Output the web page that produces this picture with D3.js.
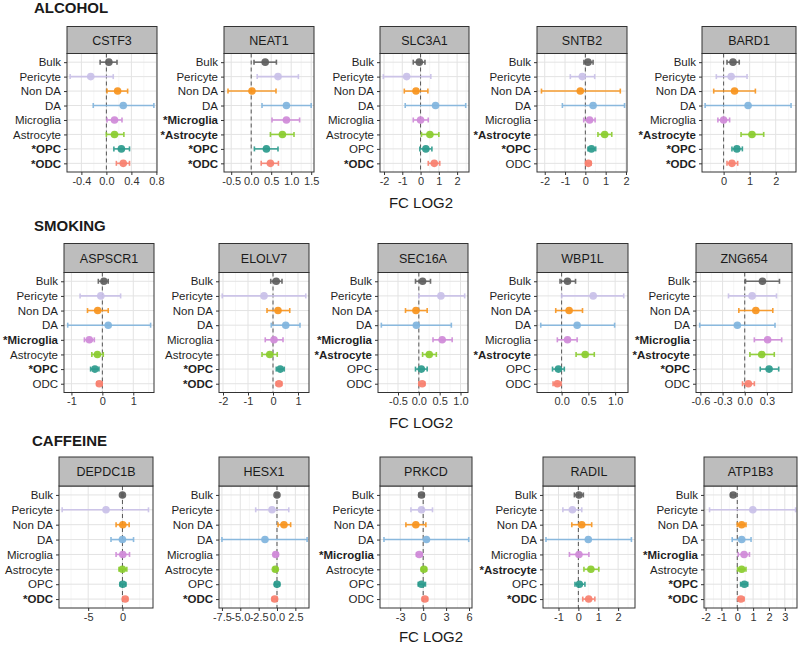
<!DOCTYPE html>
<html><head><meta charset="utf-8">
<script src="https://cdn.jsdelivr.net/npm/d3@7"></script>
<style>body{margin:0;background:#fff}svg{display:block;font-family:"Liberation Sans",Arial,sans-serif}</style>
</head><body><svg id="c" width="800" height="645"></svg>
<script>
// ---------------- DATA ----------------
const categories = ["Bulk","Pericyte","Non DA","DA","Microglia","Astrocyte","OPC","ODC"];
const catColors  = ["#5e5e5e","#c9c0e8","#f7941d","#80b4dd","#cf8ad8","#8acc2e","#2a9a8c","#f7806f"];
const sections = ["ALCOHOL","SMOKING","CAFFEINE"];
const sectionGenes = [
  ["CSTF3","NEAT1","SLC3A1","SNTB2","BARD1"],
  ["ASPSCR1","ELOLV7","SEC16A","WBP1L","ZNG654"],
  ["DEPDC1B","HESX1","PRKCD","RADIL","ATP1B3"]
];
const axisTitle = "FC LOG2";

// ALCOHOL
const CSTF3_est = [0.04,-0.25,0.18,0.27,0.13,0.13,0.24,0.27];
const CSTF3_lo  = [-0.10,-0.58,0.01,-0.21,0.01,0.00,0.12,0.16];
const CSTF3_hi  = [0.17,0.11,0.34,0.76,0.25,0.28,0.37,0.37];
const CSTF3_sig = ["OPC","ODC"];
const CSTF3_ticks = [-0.4,0,0.4,0.8];
const CSTF3_tickLabels = ["-0.4","0.0","0.4","0.8"];
const CSTF3_limits = [-0.63,0.81];

const NEAT1_est = [0.35,0.67,0.02,0.88,0.88,0.78,0.38,0.48];
const NEAT1_lo  = [0.07,0.15,-0.58,0.27,0.52,0.48,0.08,0.25];
const NEAT1_hi  = [0.63,1.18,0.62,1.50,1.21,1.07,0.67,0.68];
const NEAT1_sig = ["Microglia","Astrocyte","OPC","ODC"];
const NEAT1_ticks = [-0.5,0,0.5,1,1.5];
const NEAT1_tickLabels = ["-0.5","0.0","0.5","1.0","1.5"];
const NEAT1_limits = [-0.68,1.57];

const SLC3A1_est = [-0.07,-0.76,-0.25,0.82,0.00,0.51,0.29,0.75];
const SLC3A1_lo  = [-0.40,-2.04,-0.89,-0.84,-0.40,0.05,-0.04,0.42];
const SLC3A1_hi  = [0.24,0.56,0.40,2.47,0.42,1.00,0.62,1.05];
const SLC3A1_sig = ["ODC"];
const SLC3A1_ticks = [-2,-1,0,1,2];
const SLC3A1_tickLabels = ["-2","-1","0","1","2"];
const SLC3A1_limits = [-2.22,2.65];

const SNTB2_est = [0.13,-0.15,-0.25,0.38,0.21,0.95,0.30,0.15];
const SNTB2_lo  = [-0.07,-0.74,-2.16,-1.13,-0.08,0.62,0.13,0.02];
const SNTB2_hi  = [0.38,0.46,1.72,1.93,0.48,1.30,0.51,0.28];
const SNTB2_sig = ["Astrocyte","OPC"];
const SNTB2_ticks = [-2,-1,0,1,2];
const SNTB2_tickLabels = ["-2","-1","0","1","2"];
const SNTB2_limits = [-2.38,2.05];

const BARD1_est = [0.36,0.29,0.42,0.94,0.00,1.09,0.51,0.32];
const BARD1_lo  = [0.13,-0.28,-0.38,-0.71,-0.22,0.67,0.32,0.13];
const BARD1_hi  = [0.60,0.90,1.22,2.59,0.23,1.54,0.72,0.54];
const BARD1_sig = ["Astrocyte","OPC","ODC"];
const BARD1_ticks = [0,1,2];
const BARD1_tickLabels = ["0","1","2"];
const BARD1_limits = [-0.83,2.78];

// SMOKING
const ASPSCR1_est = [0.05,-0.05,-0.15,0.19,-0.42,-0.16,-0.24,-0.10];
const ASPSCR1_lo  = [-0.13,-0.72,-0.48,-1.12,-0.58,-0.34,-0.38,-0.18];
const ASPSCR1_hi  = [0.19,0.59,0.19,1.56,-0.26,0.03,-0.11,-0.01];
const ASPSCR1_sig = ["Microglia","OPC"];
const ASPSCR1_ticks = [-1,0,1];
const ASPSCR1_tickLabels = ["-1","0","1"];
const ASPSCR1_limits = [-1.24,1.67];

const ELOLV7_est = [0.13,-0.36,0.20,0.51,0.04,-0.13,0.29,0.24];
const ELOLV7_lo  = [-0.09,-2.03,-0.24,-0.07,-0.31,-0.44,0.13,0.13];
const ELOLV7_hi  = [0.36,1.31,0.67,1.08,0.40,0.17,0.45,0.35];
const ELOLV7_sig = ["OPC","ODC"];
const ELOLV7_ticks = [-2,-1,0,1];
const ELOLV7_tickLabels = ["-2","-1","0","1"];
const ELOLV7_limits = [-2.16,1.44];

const SEC16A_est = [0.09,0.53,-0.07,-0.06,0.56,0.25,0.06,0.08];
const SEC16A_lo  = [-0.08,0.00,-0.32,-0.90,0.34,0.09,-0.08,0.00];
const SEC16A_hi  = [0.28,1.10,0.20,0.78,0.80,0.42,0.20,0.14];
const SEC16A_sig = ["Microglia","Astrocyte"];
const SEC16A_ticks = [-0.5,0,0.5,1];
const SEC16A_tickLabels = ["-0.5","0.0","0.5","1.0"];
const SEC16A_limits = [-0.98,1.18];

const WBP1L_est = [0.11,0.59,0.14,0.29,0.11,0.44,-0.06,-0.08];
const WBP1L_lo  = [-0.03,0.00,-0.11,-0.39,-0.08,0.27,-0.17,-0.16];
const WBP1L_hi  = [0.26,1.16,0.39,0.99,0.29,0.61,0.05,-0.01];
const WBP1L_sig = ["Astrocyte"];
const WBP1L_ticks = [0,0.5,1];
const WBP1L_tickLabels = ["0.0","0.5","1.0"];
const WBP1L_limits = [-0.46,1.24];

const ZNG654_est = [0.24,0.10,0.15,-0.10,0.31,0.23,0.33,0.05];
const ZNG654_lo  = [0.01,-0.22,-0.08,-0.61,0.13,0.07,0.21,-0.03];
const ZNG654_hi  = [0.47,0.43,0.38,0.41,0.50,0.40,0.46,0.13];
const ZNG654_sig = ["Microglia","Astrocyte","OPC"];
const ZNG654_ticks = [-0.6,-0.3,0,0.3];
const ZNG654_tickLabels = ["-0.6","-0.3","0.0","0.3"];
const ZNG654_limits = [-0.66,0.64];

// CAFFEINE
const DEPDC1B_est = [0.00,-2.40,0.05,0.00,0.05,0.00,0.05,0.40];
const DEPDC1B_lo  = [-0.10,-8.80,-0.93,-1.67,-0.93,-0.50,-0.34,0.05];
const DEPDC1B_hi  = [0.15,3.80,0.98,1.62,1.03,0.64,0.50,0.74];
const DEPDC1B_sig = ["ODC"];
const DEPDC1B_ticks = [-5,0];
const DEPDC1B_tickLabels = ["-5","0"];
const DEPDC1B_limits = [-9.26,4.46];

const HESX1_est = [0.00,-0.68,0.95,-1.64,-0.18,-0.23,0.00,-0.32];
const HESX1_lo  = [-0.18,-2.90,0.14,-7.50,-0.40,-0.45,-0.30,-0.63];
const HESX1_hi  = [0.20,1.60,1.86,4.10,0.14,0.05,0.35,0.00];
const HESX1_sig = ["ODC"];
const HESX1_ticks = [-7.5,-5,-2.5,0,2.5];
const HESX1_tickLabels = ["-7.5","-5.0","-2.5","0.0","2.5"];
const HESX1_limits = [-7.9,4.36];

const PRKCD_est = [-0.22,-0.22,-0.96,0.43,-0.52,0.09,-0.22,0.22];
const PRKCD_lo  = [-0.57,-1.60,-2.26,-5.13,-0.87,-0.22,-0.65,-0.09];
const PRKCD_hi  = [0.13,1.22,0.35,5.96,-0.13,0.43,0.30,0.57];
const PRKCD_sig = ["Microglia"];
const PRKCD_ticks = [-3,0,3,6];
const PRKCD_tickLabels = ["-3","0","3","6"];
const PRKCD_limits = [-5.65,6.39];

const RADIL_est = [0.03,-0.30,0.17,0.50,0.03,0.63,0.05,0.52];
const RADIL_lo  = [-0.20,-0.78,-0.33,-1.63,-0.45,0.28,-0.17,0.22];
const RADIL_hi  = [0.25,0.17,0.67,2.67,0.53,1.03,0.33,0.83];
const RADIL_sig = ["Astrocyte","ODC"];
const RADIL_ticks = [-1,0,1,2];
const RADIL_tickLabels = ["-1","0","1","2"];
const RADIL_limits = [-1.78,2.85];

const ATP1B3_est = [-0.26,0.98,0.28,0.28,0.43,0.28,0.45,0.23];
const ATP1B3_lo  = [-0.40,-1.75,0.00,-0.32,0.06,0.02,0.21,0.06];
const ATP1B3_hi  = [-0.10,3.68,0.55,0.87,0.77,0.55,0.66,0.43];
const ATP1B3_sig = ["Microglia","OPC","ODC"];
const ATP1B3_ticks = [-2,-1,0,1,2,3];
const ATP1B3_tickLabels = ["-2","-1","0","1","2","3"];
const ATP1B3_limits = [-2.1,3.77];

const geneData = {
  CSTF3:[CSTF3_est,CSTF3_lo,CSTF3_hi,CSTF3_sig,CSTF3_ticks,CSTF3_tickLabels,CSTF3_limits],
  NEAT1:[NEAT1_est,NEAT1_lo,NEAT1_hi,NEAT1_sig,NEAT1_ticks,NEAT1_tickLabels,NEAT1_limits],
  SLC3A1:[SLC3A1_est,SLC3A1_lo,SLC3A1_hi,SLC3A1_sig,SLC3A1_ticks,SLC3A1_tickLabels,SLC3A1_limits],
  SNTB2:[SNTB2_est,SNTB2_lo,SNTB2_hi,SNTB2_sig,SNTB2_ticks,SNTB2_tickLabels,SNTB2_limits],
  BARD1:[BARD1_est,BARD1_lo,BARD1_hi,BARD1_sig,BARD1_ticks,BARD1_tickLabels,BARD1_limits],
  ASPSCR1:[ASPSCR1_est,ASPSCR1_lo,ASPSCR1_hi,ASPSCR1_sig,ASPSCR1_ticks,ASPSCR1_tickLabels,ASPSCR1_limits],
  ELOLV7:[ELOLV7_est,ELOLV7_lo,ELOLV7_hi,ELOLV7_sig,ELOLV7_ticks,ELOLV7_tickLabels,ELOLV7_limits],
  SEC16A:[SEC16A_est,SEC16A_lo,SEC16A_hi,SEC16A_sig,SEC16A_ticks,SEC16A_tickLabels,SEC16A_limits],
  WBP1L:[WBP1L_est,WBP1L_lo,WBP1L_hi,WBP1L_sig,WBP1L_ticks,WBP1L_tickLabels,WBP1L_limits],
  ZNG654:[ZNG654_est,ZNG654_lo,ZNG654_hi,ZNG654_sig,ZNG654_ticks,ZNG654_tickLabels,ZNG654_limits],
  DEPDC1B:[DEPDC1B_est,DEPDC1B_lo,DEPDC1B_hi,DEPDC1B_sig,DEPDC1B_ticks,DEPDC1B_tickLabels,DEPDC1B_limits],
  HESX1:[HESX1_est,HESX1_lo,HESX1_hi,HESX1_sig,HESX1_ticks,HESX1_tickLabels,HESX1_limits],
  PRKCD:[PRKCD_est,PRKCD_lo,PRKCD_hi,PRKCD_sig,PRKCD_ticks,PRKCD_tickLabels,PRKCD_limits],
  RADIL:[RADIL_est,RADIL_lo,RADIL_hi,RADIL_sig,RADIL_ticks,RADIL_tickLabels,RADIL_limits],
  ATP1B3:[ATP1B3_est,ATP1B3_lo,ATP1B3_hi,ATP1B3_sig,ATP1B3_ticks,ATP1B3_tickLabels,ATP1B3_limits]
};

// ---------------- LAYOUT ----------------
const rowLayout = [
  {titleX:34, titleY:13, top:26.5, headH:27, panelH:118.5, axX:421, axY:208},
  {titleX:34, titleY:231, top:243.5, headH:29, panelH:120, axX:421, axY:428},
  {titleX:32, titleY:446, top:457, headH:29, panelH:122, axX:431, axY:642}
];
const panelX = [
  [[67,157],[224,314],[380,469],[537,627],[702,796]],
  [[64,154],[219,309],[378,468],[537,628],[696,792]],
  [[59,153],[219,309],[380,472],[543,635],[704,797]]
];

const svg = d3.select("#c");

sections.forEach((sec, r) => {
  const L = rowLayout[r];
  svg.append("text").attr("x", L.titleX).attr("y", L.titleY)
    .attr("font-size", 15).attr("font-weight", "bold").attr("fill", "#1a1a1a").text(sec);
  svg.append("text").attr("x", L.axX).attr("y", L.axY).attr("text-anchor","middle")
    .attr("font-size", 15).attr("fill", "#1a1a1a").text(axisTitle);

  sectionGenes[r].forEach((gene, c) => {
    const [est, lo, hi, sig, ticks, tickLabels, limits] = geneData[gene];
    const [x0, x1] = panelX[r][c];
    const yTop = L.top + L.headH, yBot = yTop + L.panelH;
    const x = d3.scaleLinear().domain(limits).range([x0, x1]);
    const y = d3.scalePoint().domain(categories).range([yTop, yBot]).padding(0.6);
    const g = svg.append("g");

    g.append("rect").attr("x", x0).attr("y", yTop).attr("width", x1 - x0).attr("height", yBot - yTop).attr("fill", "#fff");
    const step = ticks.length > 1 ? ticks[1] - ticks[0] : 1;
    const minor = [];
    for (let v = ticks[0] - step / 2; v <= limits[1]; v += step) if (v >= limits[0]) minor.push(v);
    g.selectAll(null).data(minor).enter().append("line")
      .attr("x1", d => x(d)).attr("x2", d => x(d)).attr("y1", yTop).attr("y2", yBot)
      .attr("stroke", "#f0f0f0").attr("stroke-width", 0.6);
    g.selectAll(null).data(ticks).enter().append("line")
      .attr("x1", d => x(d)).attr("x2", d => x(d)).attr("y1", yTop).attr("y2", yBot)
      .attr("stroke", "#e3e3e3").attr("stroke-width", 1);
    g.selectAll(null).data(categories).enter().append("line")
      .attr("x1", x0).attr("x2", x1).attr("y1", d => y(d)).attr("y2", d => y(d))
      .attr("stroke", "#e3e3e3").attr("stroke-width", 1);
    g.append("line").attr("x1", x(0)).attr("x2", x(0)).attr("y1", yTop).attr("y2", yBot)
      .attr("stroke", "#555").attr("stroke-width", 1).attr("stroke-dasharray", "4,3");

    const rows = categories.map((cat, i) => ({cat, i, est: est[i], lo: lo[i], hi: hi[i]}));
    const eb = g.selectAll(null).data(rows).enter().append("g")
      .attr("stroke", d => catColors[d.i]).attr("stroke-width", 1.6).attr("opacity", 0.9);
    eb.append("line").attr("x1", d => x(d.lo)).attr("x2", d => x(d.hi))
      .attr("y1", d => y(d.cat)).attr("y2", d => y(d.cat));
    eb.append("line").attr("x1", d => x(d.lo)).attr("x2", d => x(d.lo))
      .attr("y1", d => y(d.cat) - 2.5).attr("y2", d => y(d.cat) + 2.5);
    eb.append("line").attr("x1", d => x(d.hi)).attr("x2", d => x(d.hi))
      .attr("y1", d => y(d.cat) - 2.5).attr("y2", d => y(d.cat) + 2.5);
    g.selectAll(null).data(rows).enter().append("circle")
      .attr("cx", d => x(d.est)).attr("cy", d => y(d.cat)).attr("r", 3.8)
      .attr("fill", d => catColors[d.i]).attr("opacity", 0.92);

    g.append("rect").attr("x", x0).attr("y", yTop).attr("width", x1 - x0).attr("height", yBot - yTop)
      .attr("fill", "none").attr("stroke", "#333").attr("stroke-width", 1);
    g.append("rect").attr("x", x0).attr("y", L.top).attr("width", x1 - x0).attr("height", L.headH)
      .attr("fill", "#bdbdbd").attr("stroke", "#333").attr("stroke-width", 1);
    g.append("text").attr("x", (x0 + x1) / 2).attr("y", L.top + L.headH / 2).attr("dy", "0.36em")
      .attr("text-anchor", "middle").attr("font-size", 12.5).attr("fill", "#1a1a1a").text(gene);

    const xa = g.append("g").attr("transform", `translate(0,${yBot})`)
      .call(d3.axisBottom(x).tickValues(ticks).tickFormat((d, i) => tickLabels[i]).tickSize(3).tickPadding(2).tickSizeOuter(0));
    xa.select(".domain").remove();
    xa.selectAll("line").attr("stroke", "#333");
    xa.selectAll("text").attr("font-size", 11).attr("fill", "#333").attr("font-family", null);

    const ya = g.append("g").attr("transform", `translate(${x0},0)`)
      .call(d3.axisLeft(y).tickFormat(d => sig.includes(d) ? "*" + d : d).tickSize(3).tickPadding(3).tickSizeOuter(0));
    ya.select(".domain").remove();
    ya.selectAll("line").attr("stroke", "#333");
    ya.selectAll("text").attr("font-size", 11.5).attr("fill", "#1f1f1f").attr("font-family", null)
      .attr("font-weight", d => sig.includes(d) ? "bold" : "normal");
  });
});
</script></body></html>
